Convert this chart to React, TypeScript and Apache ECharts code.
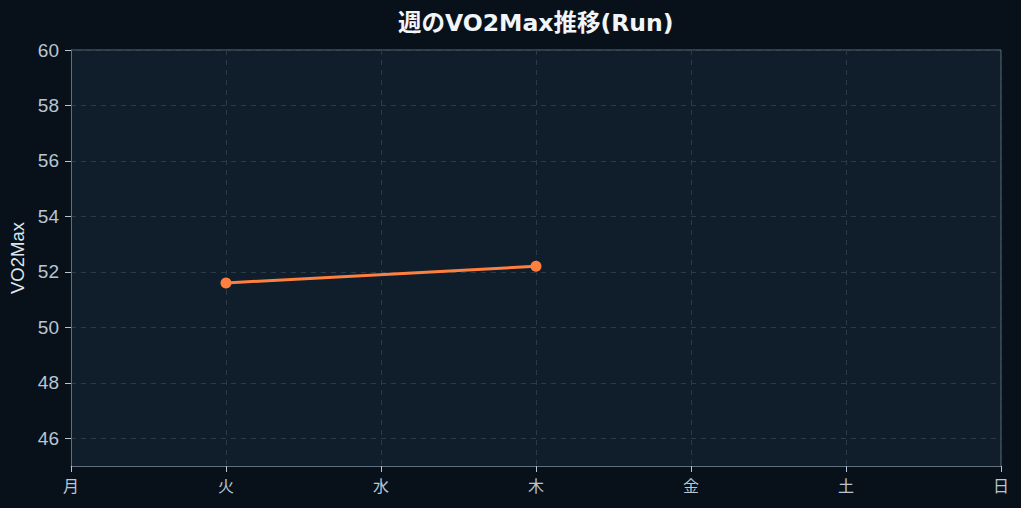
import { useEffect, useRef } from 'react'
import * as echarts from 'echarts'

const days = ['月', '火', '水', '木', '金', '土', '日']
const vo2max = [null, 51.6, null, 52.2, null, null, null]

const FONT = '"Liberation Sans", Arial, "Noto Sans CJK JP", sans-serif'
const TITLE_FONT = '"DejaVu Sans", "Noto Sans CJK JP", sans-serif'

export default function App() {
  const chartRef = useRef<HTMLDivElement>(null)

  useEffect(() => {
    document.body.style.margin = '0'
    if (!chartRef.current) return
    const chart = echarts.init(chartRef.current, null, { renderer: 'svg' })

    const option: any = {
      animation: false,
      backgroundColor: '#08111a',
      title: {
        text: '週のVO2Max推移(Run)',
        left: 393,
        top: 6,
        textStyle: { color: '#f2f5f8', fontSize: 23.5, fontWeight: 'bold', fontFamily: TITLE_FONT },
      },
      grid: {
        left: 71,
        right: 20,
        top: 50,
        bottom: 42,
        outerBoundsMode: 'none',
        show: true,
        backgroundColor: '#101e2b',
        borderWidth: 0,
      },
      xAxis: {
        type: 'category',
        data: days,
        boundaryGap: false,
        axisLine: { lineStyle: { color: '#5f6f7d', width: 1 } },
        axisTick: { show: true, length: 6, lineStyle: { color: '#b8c6d2' } },
        axisLabel: { color: '#b8c6d2', fontSize: 16, fontFamily: FONT, margin: 12 },
        splitLine: { show: true, lineStyle: { color: '#2a3a48', type: [5, 5] } },
      },
      yAxis: {
        type: 'value',
        min: 45,
        max: 60,
        splitNumber: 7,
        name: 'VO2Max',
        nameLocation: 'middle',
        nameGap: 44,
        nameTextStyle: { color: '#dde6ee', fontSize: 18.5, fontFamily: FONT },
        axisLine: { show: true, lineStyle: { color: '#5f6f7d', width: 1 } },
        axisTick: { show: true, length: 6, lineStyle: { color: '#b8c6d2' } },
        axisLabel: {
          color: '#b8c6d2',
          fontSize: 19,
          fontFamily: FONT,
          margin: 12,
          showMinLabel: false,
        },
        splitLine: { show: true, lineStyle: { color: '#2a3a48', type: [5, 5] } },
      },
      graphic: [
        {
          type: 'line',
          shape: { x1: 71, y1: 50, x2: 1001, y2: 50 },
          style: { stroke: '#5f6f7d', lineWidth: 1 },
        },
        {
          type: 'line',
          shape: { x1: 1001, y1: 50, x2: 1001, y2: 466 },
          style: { stroke: '#5f6f7d', lineWidth: 1 },
        },
      ],
      series: [
        {
          type: 'line',
          data: vo2max,
          connectNulls: true,
          symbol: 'circle',
          symbolSize: 11,
          lineStyle: { color: '#ff7f3f', width: 3 },
          itemStyle: { color: '#ff7f3f' },
        },
      ],
    }

    chart.setOption(option)

    const handleResize = () => {
      chart.resize()
    }
    window.addEventListener('resize', handleResize)

    return () => {
      window.removeEventListener('resize', handleResize)
      chart.dispose()
    }
  }, [])

  return <div ref={chartRef} style={{ width: '1021px', height: '508px' }} />
}
